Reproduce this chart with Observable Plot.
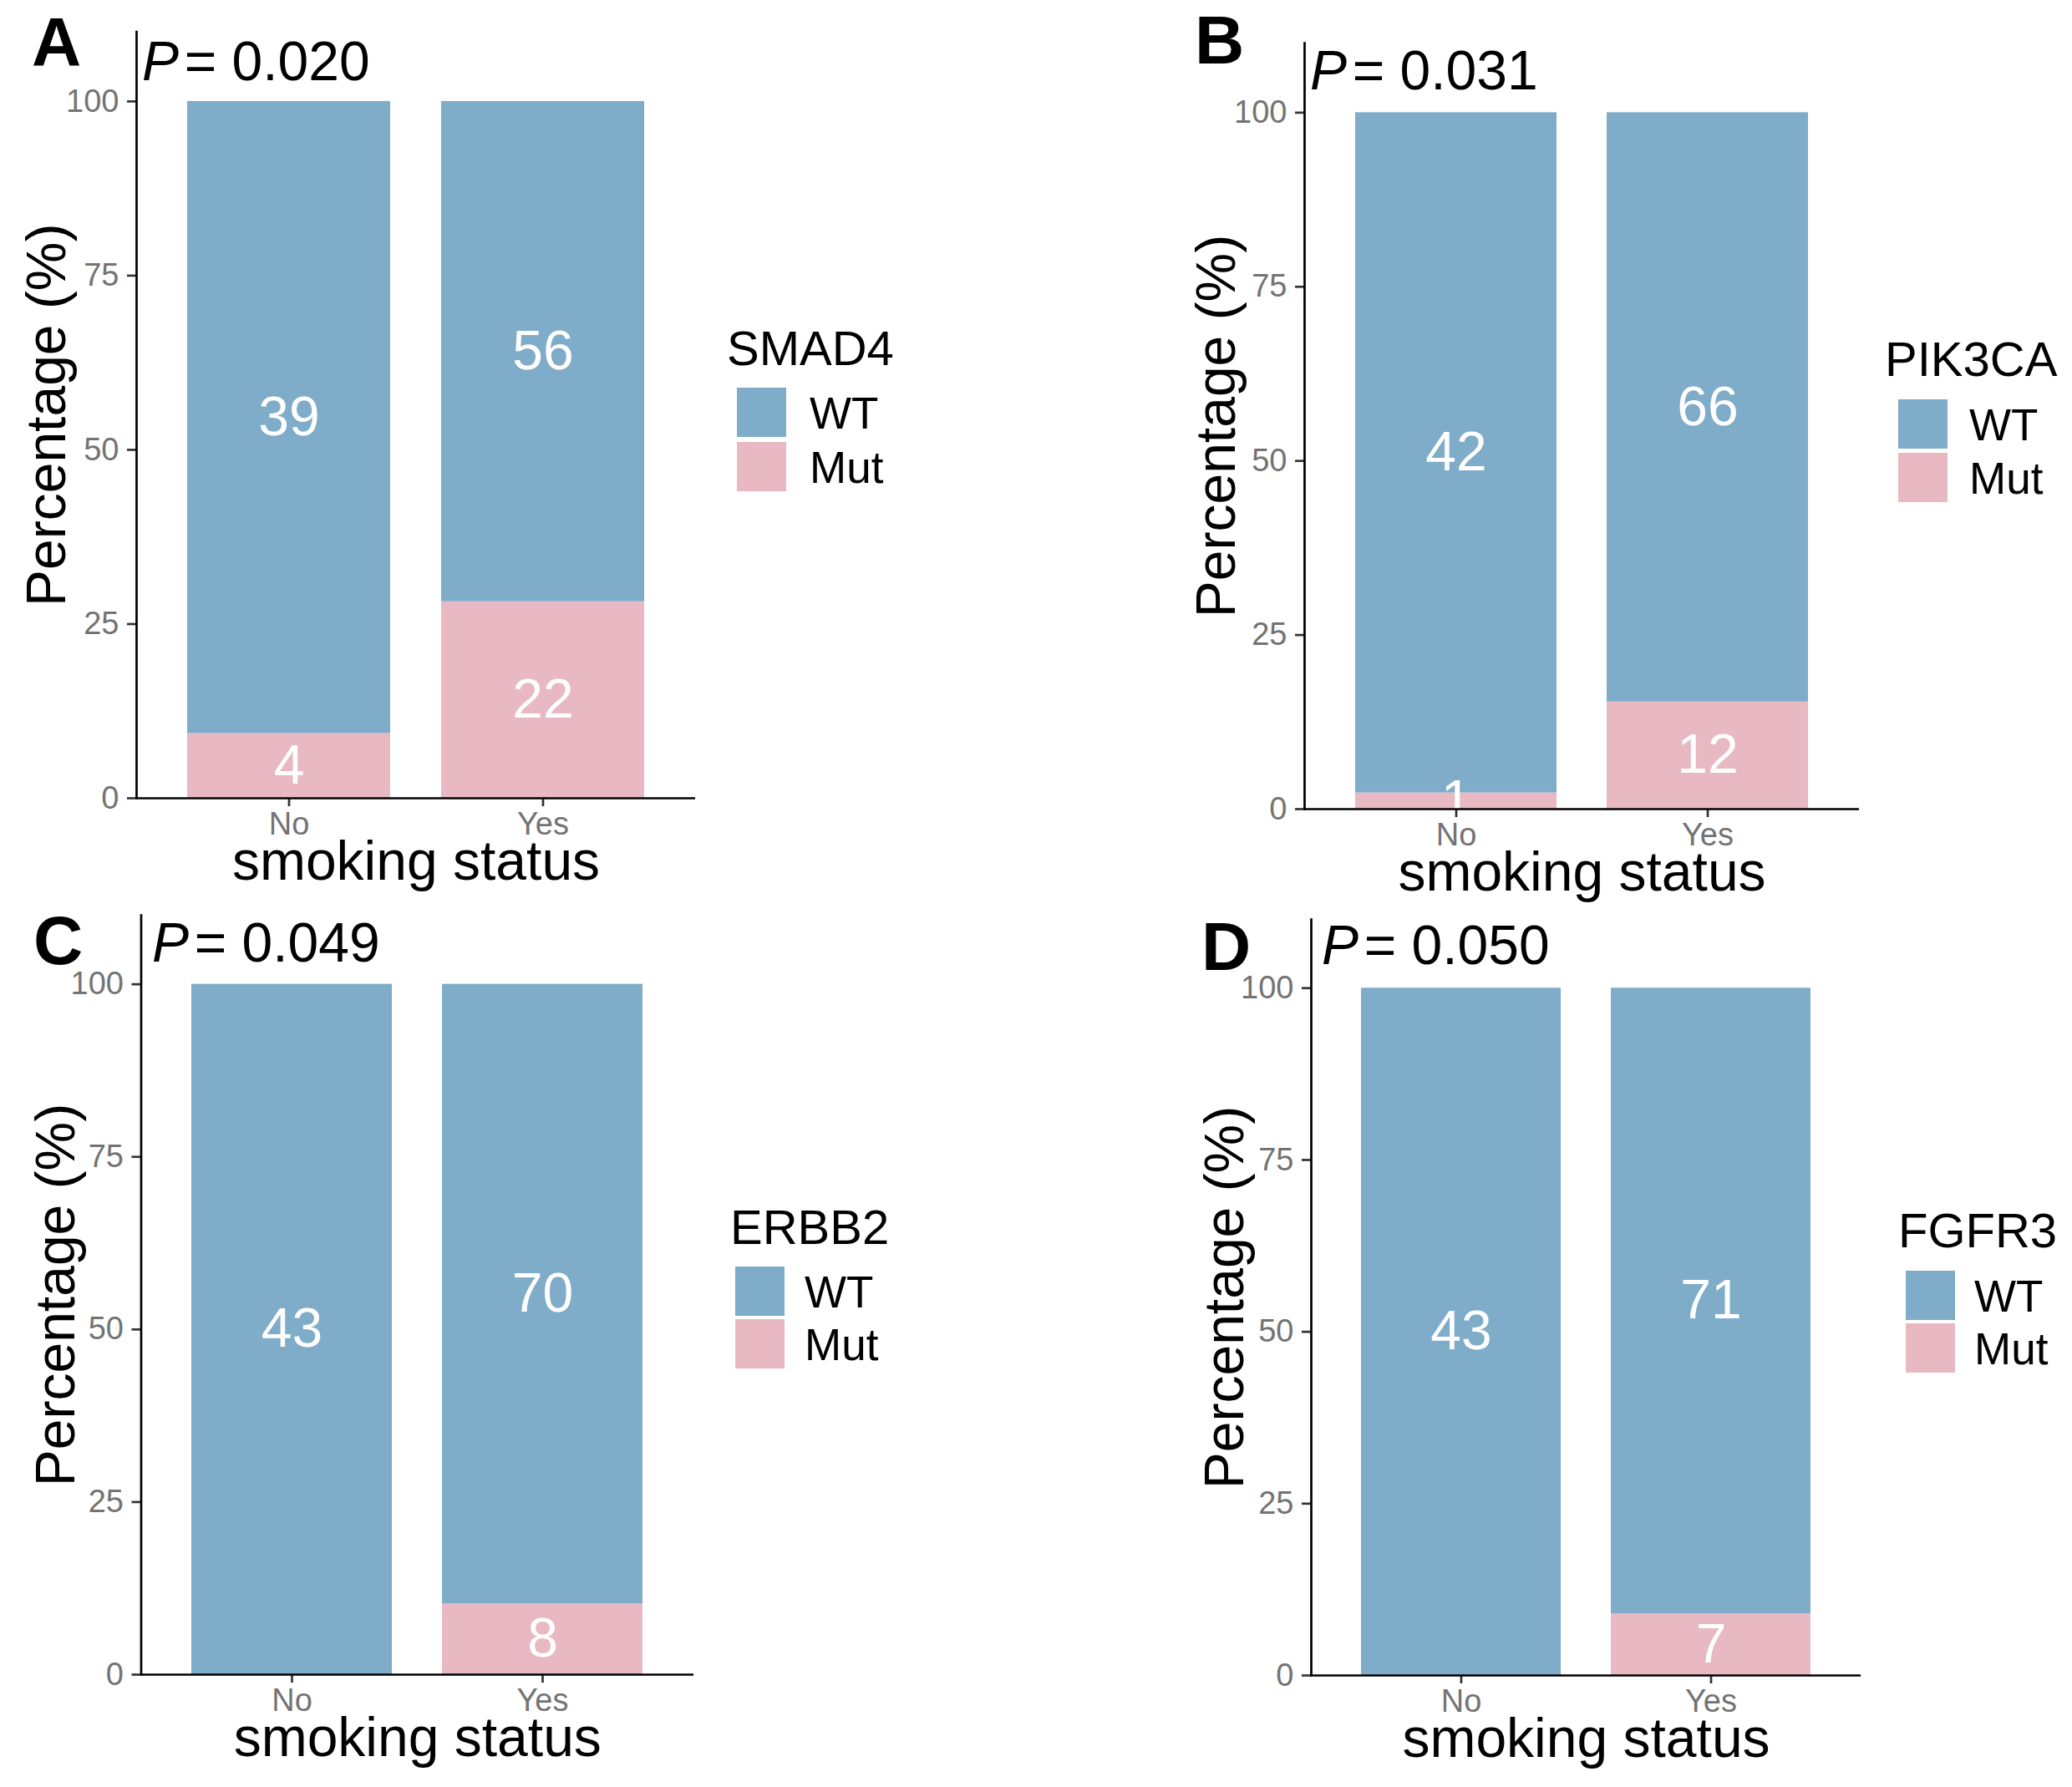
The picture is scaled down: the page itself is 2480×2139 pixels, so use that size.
<!DOCTYPE html>
<html><head><meta charset="utf-8">
<script src="https://cdn.jsdelivr.net/npm/d3@7"></script>
<script src="https://cdn.jsdelivr.net/npm/@observablehq/plot@0.6"></script>
<style>
body{margin:0;background:#fff;}
#root{position:relative;width:2480px;height:2139px;font-family:"Liberation Sans",Arial,sans-serif;background:#fff;overflow:hidden;}
.panel{position:absolute;width:1240px;height:1070px;}
.panel svg{position:absolute;left:0;top:0;overflow:visible;}
.ov{position:absolute;white-space:nowrap;line-height:1;color:#000;}
.key{position:absolute;}
</style></head><body><div id="root"></div>
<script>
// ---- data ----
const genes = ["SMAD4", "PIK3CA", "ERBB2", "FGFR3"];
const letters = ["A", "B", "C", "D"];
const pValues = ["0.020", "0.031", "0.049", "0.050"];
const statuses = ["No", "Yes"];
const types = ["WT", "Mut"];
const wtNo = [39, 42, 43, 43];
const wtYes = [56, 66, 70, 71];
const mutNo = [4, 1, 0, 0];
const mutYes = [22, 12, 8, 7];
const yTicks = [0, 25, 50, 75, 100];
const xTitle = "smoking status";
const yTitle = "Percentage (%)";

// ---- styles / layout ----
const colors = ["#7FACC9", "#E8B8C3"];
const FONT = '"Liberation Sans", Arial, sans-serif';
const layout = [
  {ox:0, oy:0, left:163, top:37.5, zero:955, right:832, titleDx:-107, letterX:38, letterBase:78.5, pX:170, pBase:95.5, legX:870, legTitleBase:437, keyX:882, keyTop:464, keyStep:65, labX:969},
  {ox:1240, oy:0, left:321, top:51, zero:968, right:985, titleDx:-105, letterX:190, letterBase:76, pX:328, pBase:107, legX:1016, legTitleBase:450, keyX:1032, keyTop:478, keyStep:64, labX:1117},
  {ox:0, oy:1069, left:168.5, top:26, zero:935, right:830, titleDx:-101, letterX:40, letterBase:85, pX:182, pBase:82, legX:874, legTitleBase:420, keyX:880, keyTop:447, keyStep:63, labX:963},
  {ox:1240, oy:1069, left:329, top:31, zero:936, right:987, titleDx:-103, letterX:198, letterBase:92, pX:342, pBase:85, legX:1032, legTitleBase:424, keyX:1041, keyTop:452, keyStep:63, labX:1123}
];
const W = 1240, H = 1070, KEY = 59;
const baseTop = (base, size) => base - 0.8465 * size;

const root = document.getElementById("root");

genes.forEach((gene, i) => {
  const L = layout[i];
  const counts = {No: {WT: wtNo[i], Mut: mutNo[i]}, Yes: {WT: wtYes[i], Mut: mutYes[i]}};
  const rows = [];
  for (const s of statuses) {
    const total = counts[s].WT + counts[s].Mut;
    for (const t of ["Mut", "WT"]) {
      rows.push({status: s, type: t, count: counts[s][t], pct: counts[s][t] / total * 100});
    }
  }
  const labelled = rows.filter(d => d.count > 0);

  const chart = Plot.plot({
    width: W, height: H,
    marginLeft: L.left, marginTop: L.top, marginRight: W - L.right, marginBottom: H - L.zero,
    style: {fontFamily: FONT, background: "transparent", overflow: "visible"},
    x: {domain: statuses, padding: 0.2, label: null},
    y: {domain: [0, 110], label: null},
    color: {domain: types, range: colors},
    marks: [
      Plot.barY(rows, {x: "status", y: "pct", fill: "type", z: "type", order: ["Mut", "WT"]}),
      Plot.text(labelled, Plot.stackY({x: "status", y: "pct", z: "type", order: ["Mut", "WT"], text: d => String(d.count), fill: "white", fontSize: 66, lineAnchor: "middle"})),
      Plot.axisX({tickSize: 10, tickPadding: 7, fontSize: 38, fill: "#737373", stroke: "#333", strokeWidth: 2.7, label: null}),
      Plot.axisY({ticks: yTicks, tickSize: 11, tickPadding: 10, fontSize: 38, fill: "#737373", stroke: "#333", strokeWidth: 2.7, label: null}),
      Plot.ruleY([0], {stroke: "black", strokeWidth: 2.7}),
      Plot.frame({anchor: "left", stroke: "black", strokeWidth: 2.7}),
      Plot.text([xTitle], {text: d => d, frameAnchor: "bottom", dy: 97, lineAnchor: "bottom", fontSize: 66, fill: "black"}),
      Plot.text([yTitle], {text: d => d, frameAnchor: "left", dx: L.titleDx, rotate: -90, lineAnchor: "middle", textAnchor: "middle", fontSize: 66, fill: "black"})
    ]
  });

  const panel = document.createElement("div");
  panel.className = "panel";
  panel.style.left = L.ox + "px";
  panel.style.top = L.oy + "px";
  panel.appendChild(chart);

  const addText = (html, x, base, size, extra) => {
    const d = document.createElement("div");
    d.className = "ov";
    d.style.left = x + "px";
    d.style.top = baseTop(base, size) + "px";
    d.style.fontSize = size + "px";
    if (extra) Object.assign(d.style, extra);
    d.innerHTML = html;
    panel.appendChild(d);
  };

  // panel letter
  addText(letters[i], L.letterX, L.letterBase, 82, {fontWeight: "bold"});
  // P value
  addText(`<i>P</i><span style="margin-left:0.1em">= ${pValues[i]}</span>`, L.pX, L.pBase, 66);
  // legend
  addText(gene, L.legX, L.legTitleBase, 58);
  types.forEach((t, k) => {
    const key = document.createElement("div");
    key.className = "key";
    key.style.left = L.keyX + "px";
    key.style.top = (L.keyTop + k * L.keyStep) + "px";
    key.style.width = KEY + "px";
    key.style.height = KEY + "px";
    key.style.background = colors[k];
    panel.appendChild(key);
    addText(t, L.labX, L.keyTop + k * L.keyStep + KEY / 2 + 0.358 * 53, 53);
  });

  root.appendChild(panel);
});
</script></body></html>
